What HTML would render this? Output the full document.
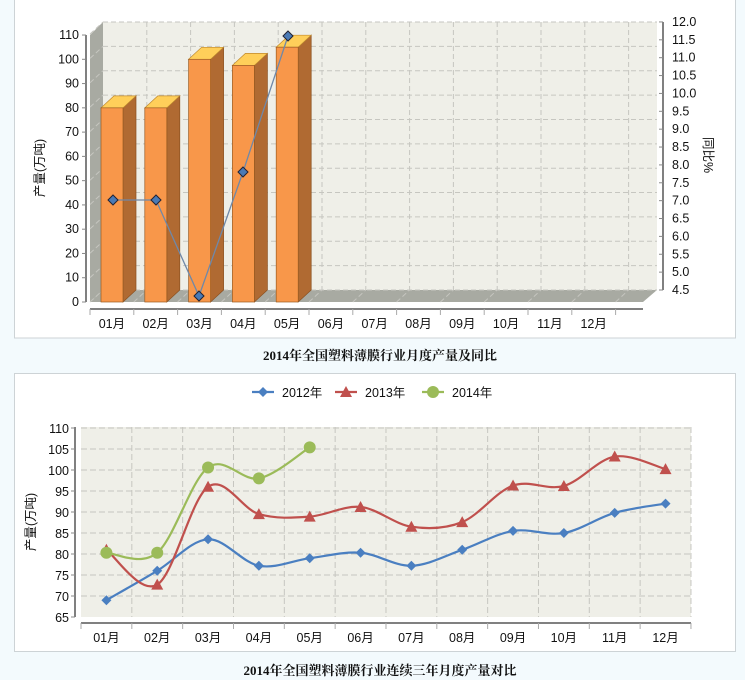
<!DOCTYPE html>
<html><head><meta charset="utf-8"><style>
body{margin:0;background:#f3fafd;width:745px;height:680px;overflow:hidden;font-family:"Liberation Sans","Noto Sans CJK SC",sans-serif}
svg{position:absolute;left:0;top:0}
text{font-family:"Liberation Sans","Noto Sans CJK SC",sans-serif;font-size:12.5px;fill:#111}
.t{font-weight:bold;font-size:13px;font-family:"Liberation Serif","Noto Serif CJK SC",serif}
</style></head><body>
<svg id="s" width="745" height="680" xmlns="http://www.w3.org/2000/svg"></svg>
<script>
var s=document.getElementById('s'),h='';
function a(x){h+=x;}
a('<rect x="14.5" y="-1" width="721" height="339" fill="#fff" stroke="#cdd3d6"/>');
a('<rect x="14.5" y="373.5" width="721" height="278" fill="#fff" stroke="#cdd3d6"/>');
a('<polygon points="103,22 657,22 657,290 103,290" fill="#efefe8"/>');
a('<polygon points="90,35 103,22 103,290 90,302" fill="#a8aaa2"/>');
a('<polygon points="90,302 103,290 657,290 643,302" fill="#a8aaa2"/>');
var L='';
for(var i=0;i<=11;i++){var y=290-i*24.36;L+='<line x1="103" y1="'+y+'" x2="657" y2="'+y+'"/>';L+='<line x1="90" y1="'+(y+12)+'" x2="103" y2="'+y+'"/>';}
for(var i=1;i<=12;i++){var x=103+i*43.8;L+='<line x1="'+x+'" y1="22" x2="'+x+'" y2="290"/>';L+='<line x1="'+(x-13)+'" y1="302" x2="'+x+'" y2="290"/>';}
a('<g stroke="#c6c6c0" stroke-dasharray="5,3">'+L+'</g>');
a('<line x1="90" y1="309" x2="643" y2="309" stroke="#000"/><line x1="86" y1="35" x2="86" y2="302" stroke="#000"/>');
for(var i=0;i<=11;i++){var y=302-i*24.27;a('<line x1="82" y1="'+y+'" x2="86" y2="'+y+'" stroke="#888"/><text x="79" y="'+(y+4)+'" text-anchor="end">'+(i*10)+'</text>');}
for(var i=0;i<=12;i++){var x=90+i*43.8;a('<line x1="'+x+'" y1="309" x2="'+x+'" y2="315" stroke="#aaa"/>');}
for(var i=0;i<12;i++){var x=90+i*43.8+21.9;a('<text x="'+x+'" y="328" text-anchor="middle">'+(i<9?'0':'')+(i+1)+'月</text>');}
var bv=[80,80,100,97.5,105];
for(var i=0;i<5;i++){var x=101+i*43.8,y=302-bv[i]*2.427;
a('<polygon points="'+(x+22)+','+y+' '+(x+35)+','+(y-12)+' '+(x+35)+',290 '+(x+22)+',302" fill="#b06a32" stroke="#8a5020" stroke-width=".7"/>');
a('<polygon points="'+x+','+y+' '+(x+13)+','+(y-12)+' '+(x+35)+','+(y-12)+' '+(x+22)+','+y+'" fill="#ffcf5a" stroke="#c08a30" stroke-width=".7"/>');
a('<rect x="'+x+'" y="'+y+'" width="22" height="'+(302-y)+'" fill="#f8974a" stroke="#9a5a20" stroke-width=".7"/>');}
var lp=[[113,200],[156,200],[199,296],[243,172],[288,36]];
a('<polyline points="'+lp.join(' ')+'" fill="none" stroke="#6f88a8" stroke-width="1.3"/>');
lp.forEach(function(p){a('<polygon points="'+p[0]+','+(p[1]-5)+' '+(p[0]+5)+','+p[1]+' '+p[0]+','+(p[1]+5)+' '+(p[0]-5)+','+p[1]+'" fill="#4a7ab5" stroke="#223"/>');});
a('<line x1="663" y1="22" x2="663" y2="290" stroke="#000"/>');
for(var i=0;i<=15;i++){var y=290-i*17.87;a('<line x1="659" y1="'+y+'" x2="663" y2="'+y+'" stroke="#888"/><text x="672" y="'+(y+4)+'">'+(4.5+i*0.5).toFixed(1)+'</text>');}
a('<text transform="translate(704,155) rotate(90)" text-anchor="middle">同比%</text>');
a('<text transform="translate(44,168) rotate(-90)" text-anchor="middle">产量(万吨)</text>');
a('<text class="t" x="380" y="360" text-anchor="middle">2014年全国塑料薄膜行业月度产量及同比</text>');
a('<rect x="81" y="427" width="610" height="190" fill="#efefe8"/>');
L='';
for(var i=1;i<=9;i++){var y=617-i*21;L+='<line x1="81" y1="'+y+'" x2="691" y2="'+y+'"/>';}
for(var i=1;i<=12;i++){var x=81+i*50.83;L+='<line x1="'+x+'" y1="427" x2="'+x+'" y2="617"/>';}
a('<g stroke="#c6c6c0" stroke-dasharray="6,3">'+L+'</g>');
a('<line x1="75" y1="427" x2="75" y2="617" stroke="#000"/><line x1="81" y1="623" x2="691" y2="623" stroke="#000"/>');
for(var i=0;i<=9;i++){var y=617-i*21;a('<line x1="71" y1="'+y+'" x2="75" y2="'+y+'" stroke="#888"/><text x="69" y="'+(y+5)+'" text-anchor="end">'+(65+i*5)+'</text>');}
for(var i=0;i<=12;i++){var x=81+i*50.83;a('<line x1="'+x+'" y1="623" x2="'+x+'" y2="629" stroke="#aaa"/>');}
for(var i=0;i<12;i++){var x=81+i*50.83+25.4;a('<text x="'+x+'" y="642" text-anchor="middle">'+(i<9?'0':'')+(i+1)+'月</text>');}
a('<text transform="translate(35,522) rotate(-90)" text-anchor="middle">产量(万吨)</text>');
a('<text class="t" x="380" y="675" text-anchor="middle">2014年全国塑料薄膜行业连续三年月度产量对比</text>');
var D=[[69,76,83.5,77.2,79,80.3,77.2,81,85.5,85,89.8,92],[81,72.7,96,89.5,88.9,91.2,86.5,87.6,96.3,96.2,103.2,100.2],[80.3,80.3,100.6,98,105.4]];
var C=['#4a7fc1','#c0504d','#9bbb59'];
function P(i,v){return [106.4+i*50.83,617-(v-65)*4.2];}
function mk(k,x,y){if(k==0)return '<polygon points="'+x+','+(y-5)+' '+(x+5)+','+y+' '+x+','+(y+5)+' '+(x-5)+','+y+'" fill="'+C[0]+'"/>';
if(k==1)return '<polygon points="'+x+','+(y-6)+' '+(x+6)+','+(y+5)+' '+(x-6)+','+(y+5)+'" fill="'+C[1]+'"/>';
return '<circle cx="'+x+'" cy="'+y+'" r="6" fill="'+C[2]+'"/>';}
D.forEach(function(d,k){var p=d.map(function(v,i){return P(i,v);});var ds='M'+p[0];
for(var i=0;i<p.length-1;i++){var p0=p[i-1]||p[i],p1=p[i],p2=p[i+1],p3=p[i+2]||p2;
ds+=' C'+(p1[0]+(p2[0]-p0[0])/6)+','+(p1[1]+(p2[1]-p0[1])/6)+' '+(p2[0]-(p3[0]-p1[0])/6)+','+(p2[1]-(p3[1]-p1[1])/6)+' '+p2[0]+','+p2[1];}
a('<path d="'+ds+'" fill="none" stroke="'+C[k]+'" stroke-width="2.2"/>');
p.forEach(function(q){a(mk(k,q[0],q[1]));});});
var lx=[263,346,433],ln=['2012年','2013年','2014年'];
for(var k=0;k<3;k++){a('<line x1="'+(lx[k]-11)+'" y1="392" x2="'+(lx[k]+11)+'" y2="392" stroke="'+C[k]+'" stroke-width="2.2"/>'+mk(k,lx[k],392)+'<text x="'+(lx[k]+19)+'" y="397">'+ln[k]+'</text>');}
s.innerHTML=h;
</script>
</body></html>
